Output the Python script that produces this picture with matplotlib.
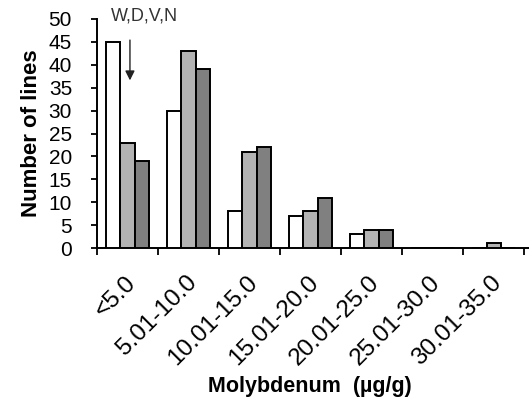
import numpy as np
import matplotlib.pyplot as plt
from matplotlib.transforms import ScaledTranslation

plt.rcParams['font.family'] = ['Liberation Sans', 'DejaVu Sans']

categories = ['<5.0', '5.01-10.0', '10.01-15.0', '15.01-20.0',
              '20.01-25.0', '25.01-30.0', '30.01-35.0']
series_a = [45, 30, 8, 7, 3, 0, 0]
series_b = [23, 43, 21, 8, 4, 0, 1]
series_c = [19, 39, 22, 11, 4, 0, 0]
colors = ['white', '#b3b3b3', '#808080']

fig = plt.figure(figsize=(5.29, 3.99), dpi=100)
ax = fig.add_axes([97 / 529, 151 / 399, 432 / 529, 229 / 399])

x = np.arange(len(categories))
w = 0.232
for i, (vals, c) in enumerate(zip([series_a, series_b, series_c], colors)):
    ax.bar(x + (i - 1) * w, vals, width=w, color=c, edgecolor='black',
           linewidth=1.4, zorder=3)

ax.set_xlim(-0.5, len(categories) - 0.42)
ax.set_ylim(0, 50)
ax.set_yticks(range(0, 51, 5))
ax.tick_params(axis='y', labelsize=15, length=4, width=1.3, pad=14)

# category boundary ticks, labels sit in the middle
ax.set_xticks(np.arange(len(categories) + 1) - 0.5)
ax.set_xticklabels([])
ax.set_xticks(x, minor=True)
ax.set_xticklabels(categories, minor=True, rotation=45, ha='right',
                   rotation_mode='anchor', fontsize=17.5)
ax.tick_params(axis='x', which='major', length=5, width=1.3)
ax.tick_params(axis='x', which='minor', length=0, pad=17)
shift = ScaledTranslation(-3 / 100, 0, fig.dpi_scale_trans)
for lbl in ax.get_xticklabels(minor=True):
    lbl.set_transform(lbl.get_transform() + shift)

for s in ['top', 'right']:
    ax.spines[s].set_visible(False)
for s in ['left', 'bottom']:
    ax.spines[s].set_linewidth(1.4)

ax.set_ylabel('Number of lines', fontsize=16, fontweight='bold')
ax.yaxis.set_label_coords(-0.152, 0.5)
ax.yaxis.label.set_va('center')
ax.set_xlabel('Molybdenum  (µg/g)', fontsize=15.5, fontweight='bold')
ax.xaxis.set_label_coords(0.493, -0.605)
ax.xaxis.label.set_va('center')

ax.annotate('', xy=(0.04, 36.6), xytext=(0.04, 45.4),
            arrowprops=dict(arrowstyle='-|>', color='#222222', lw=1,
                            shrinkA=0, shrinkB=0, mutation_scale=14),
            annotation_clip=False)
ax.text(0.28, 50.7, 'W,D,V,N', fontsize=13, color='#333333',
        ha='center', va='center', clip_on=False)

fig.savefig('out.png', dpi=100)
